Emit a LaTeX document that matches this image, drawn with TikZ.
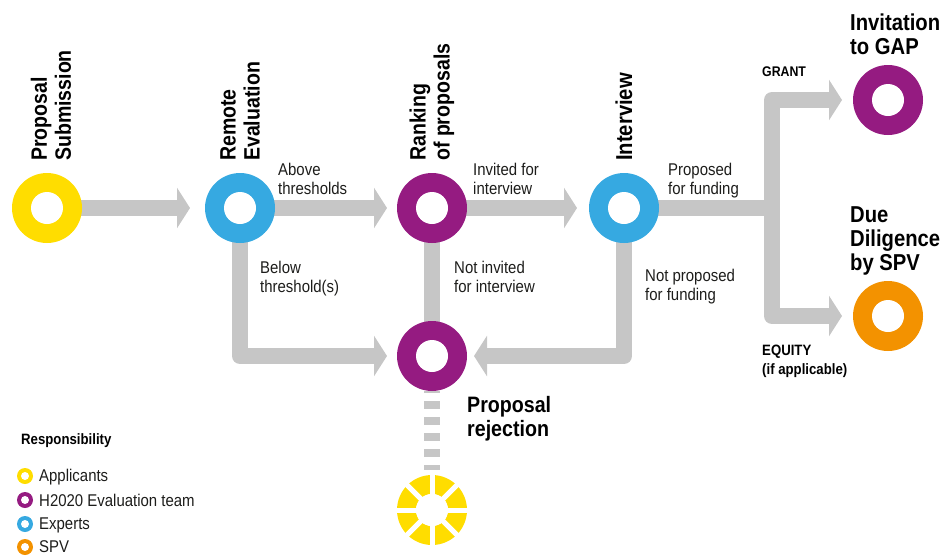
\documentclass[tikz,border=0pt]{standalone}
\usepackage{fontspec}
\setmainfont[FakeStretch=0.88]{Liberation Sans}
\usetikzlibrary{arrows.meta,backgrounds}
\definecolor{cyellow}{HTML}{FFDD00}
\definecolor{cblue}{HTML}{36A9E1}
\definecolor{cpurple}{HTML}{951B81}
\definecolor{corange}{HTML}{F39200}
\definecolor{cgray}{HTML}{C6C6C6}
\definecolor{ctext}{HTML}{1D1D1B}
\tikzset{
  x=1pt,y=-1pt,
  ring/.style={circle,fill=#1,minimum size=70pt,inner sep=0pt,outer sep=0pt,
    path picture={\fill[white] (path picture bounding box.center) circle (16);}},
  miniring/.style={circle,fill=#1,minimum size=16pt,inner sep=0pt,outer sep=0pt,
    path picture={\fill[white] (path picture bounding box.center) circle (4);}},
  flow/.style={draw=cgray,line width=16pt,line join=round},
  flowarrow/.style={flow,-{Triangle[width=40pt,length=13pt]}},
  bigt/.style={font=\fontsize{23}{24}\selectfont\bfseries,align=left,text=black,inner sep=0pt},
  vert/.style={bigt,font=\fontsize{22.2}{24}\selectfont\bfseries,rotate=90,anchor=west},
  lab/.style={font=\fontsize{17}{19}\selectfont,align=left,text=ctext,inner sep=0pt,anchor=north west},
  small/.style={font=\fontsize{14}{19}\selectfont\bfseries,align=left,text=black,inner sep=0pt,anchor=north west},
  legtext/.style={font=\fontsize{17}{19}\selectfont,text=ctext,inner sep=0pt,anchor=west},
}
\begin{document}
\begin{tikzpicture}
\useasboundingbox (0,0) rectangle (950,555);
% stations
\node[ring=cyellow] (sub) at (47,208) {};
\node[ring=cblue] (rem) at (240,208) {};
\node[ring=cpurple] (rank) at (432,208) {};
\node[ring=cblue] (int) at (624,208) {};
\node[ring=cpurple] (rej) at (432,356) {};
\node[ring=cpurple] (gap) at (888,100) {};
\node[ring=corange] (due) at (888,316) {};
\node[ring=cyellow] (end) at (432,510) {};
\foreach \a in {0,45,...,315}{
  \draw[white,line width=5pt] (end.center) -- ++(\a:36);
}
\fill[white] (end.center) circle (16);
\coordinate (split) at (772,208);
% connectors
\begin{scope}[on background layer]
\draw[flowarrow,shorten >=15pt] (sub.center) -- (rem);
\draw[flowarrow,shorten >=10pt] (rem.center) -- (rank);
\draw[flowarrow,shorten >=12pt] (rank.center) -- (int);
\draw[flow] (int.center) -- (split);
\draw[flowarrow,shorten >=11pt] (split) |- (gap);
\draw[flowarrow,shorten >=11pt] (split) |- (due);
\draw[flow] (rank.center) -- (rej.center);
\draw[flowarrow,shorten >=10pt] (rem.center) |- (rej);
\draw[flowarrow,shorten >=7pt] (int.center) |- (rej);
\draw[draw=cgray,line width=16pt,dash pattern=on 8pt off 8pt,dash phase=6pt,shorten >=5pt] (rej.south) -- (end.north);
\end{scope}
% titles
\node[vert] (t1) at (51,161) {Proposal\\Submission};
\node[vert] (t2) at (240,161) {Remote\\Evaluation};
\node[vert] (t3) at (432,161) {Ranking\\of proposals};
\node[vert,font=\fontsize{23}{24}\selectfont\bfseries] (t4) at (624,161) {Interview};
\node[bigt,anchor=north west] (t5) at (850,14) {Invitation\\to GAP};
\node[bigt,anchor=north west] (t6) at (850,206) {Due\\Diligence\\by SPV};
\node[bigt,font=\fontsize{22.3}{24}\selectfont\bfseries,anchor=north west] (t7) at (467,396) {Proposal\\rejection};
% labels
\node[lab] (l1) at (278,163) {Above\\thresholds};
\node[lab] (l2) at (473,163) {Invited for\\interview};
\node[lab] (l3) at (668,163) {Proposed\\for funding};
\node[lab] (l4) at (260,261) {Below\\threshold(s)};
\node[lab] (l5) at (454,261) {Not invited\\for interview};
\node[lab] (l6) at (645,269) {Not proposed\\for funding};
\node[small] (g) at (762,67) {GRANT};
\node[small,font=\fontsize{15}{19}\selectfont\bfseries] (e) at (762,345) {EQUITY\\(if applicable)};
% legend
\node[small,font=\fontsize{15}{17}\selectfont\bfseries] (resp) at (21,433) {Responsibility};
\node[miniring=cyellow] (m1) at (25,476) {};
\node[miniring=cpurple] (m2) at (25,500) {};
\node[miniring=cblue] (m3) at (25,524) {};
\node[miniring=corange] (m4) at (25,547) {};
\node[legtext] (lt1) at (39,477) {Applicants};
\node[legtext] (lt2) at (39,500) {H2020 Evaluation team};
\node[legtext] (lt3) at (39,525) {Experts};
\node[legtext] (lt4) at (39,547) {SPV};
\end{tikzpicture}
\end{document}
